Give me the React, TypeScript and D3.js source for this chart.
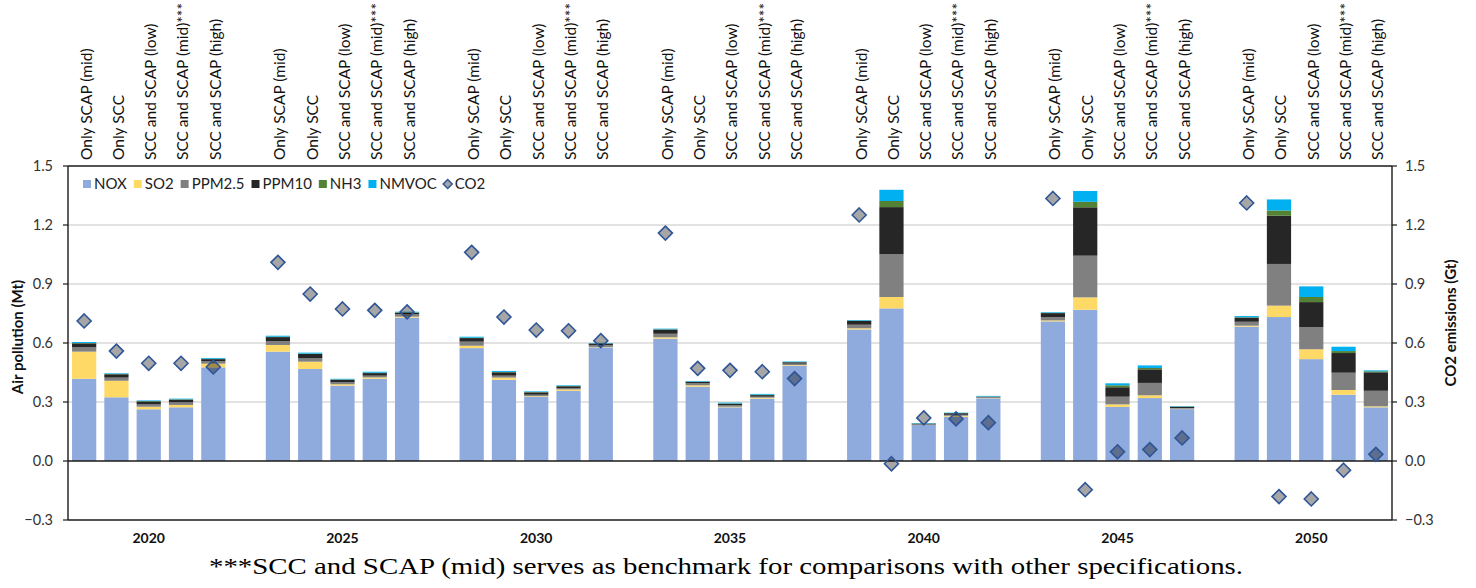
import React from "react";
import * as d3 from "d3";

const years = ["2020", "2025", "2030", "2035", "2040", "2045", "2050"];
const scenarios = [
  "Only SCAP (mid)",
  "Only SCC",
  "SCC and SCAP (low)",
  "SCC and SCAP (mid)***",
  "SCC and SCAP (high)",
];
const seriesNames = ["NOX", "SO2", "PPM2.5", "PPM10", "NH3", "NMVOC"];

// values per bar: 7 years x 5 scenarios (Mt)
const NOX = [
  0.418, 0.324, 0.263, 0.273, 0.476,
  0.556, 0.468, 0.383, 0.418, 0.729,
  0.574, 0.413, 0.327, 0.357, 0.578,
  0.622, 0.378, 0.273, 0.317, 0.485,
  0.669, 0.776, 0.183, 0.225, 0.319,
  0.71, 0.769, 0.275, 0.32, 0.264,
  0.683, 0.732, 0.518, 0.337, 0.273,
];
const SO2 = [
  0.138, 0.084, 0.013, 0.012, 0.019,
  0.034, 0.037, 0.007, 0.007, 0.005,
  0.012, 0.011, 0.003, 0.007, 0.002,
  0.007, 0.007, 0.003, 0.005, 0.003,
  0.006, 0.058, 0.001, 0.005, 0.002,
  0.005, 0.063, 0.013, 0.014, 0.002,
  0.005, 0.058, 0.05, 0.024, 0.005,
];
const PPM25 = [
  0.022, 0.016, 0.012, 0.013, 0.013,
  0.02, 0.017, 0.01, 0.009, 0.013,
  0.021, 0.01, 0.007, 0.007, 0.01,
  0.018, 0.01, 0.007, 0.005, 0.007,
  0.018, 0.217, 0.002, 0.005, 0.003,
  0.017, 0.212, 0.039, 0.063, 0.003,
  0.02, 0.212, 0.113, 0.088, 0.079,
];
const PPM10 = [
  0.02, 0.017, 0.015, 0.014, 0.01,
  0.02, 0.022, 0.013, 0.013, 0.007,
  0.018, 0.017, 0.012, 0.009, 0.007,
  0.021, 0.007, 0.008, 0.008, 0.007,
  0.019, 0.24, 0.004, 0.008, 0.003,
  0.02, 0.246, 0.048, 0.069, 0.007,
  0.021, 0.245, 0.127, 0.1, 0.094,
];
const NH3 = [
  0.002, 0.002, 0.002, 0.002, 0.002,
  0.002, 0.002, 0.002, 0.002, 0.002,
  0.002, 0.002, 0.002, 0.002, 0.001,
  0.002, 0.002, 0.002, 0.002, 0.001,
  0.002, 0.031, 0.001, 0.001, 0.001,
  0.002, 0.028, 0.01, 0.007, 0.001,
  0.002, 0.027, 0.026, 0.01, 0.005,
];
const NMVOC = [
  0.005, 0.003, 0.003, 0.003, 0.004,
  0.005, 0.005, 0.003, 0.005, 0.003,
  0.005, 0.005, 0.003, 0.003, 0.002,
  0.003, 0.003, 0.004, 0.004, 0.003,
  0.003, 0.057, 0.002, 0.002, 0.003,
  0.003, 0.055, 0.01, 0.013, 0.002,
  0.006, 0.056, 0.054, 0.022, 0.005,
];
// CO2 emissions (Gt), secondary axis
const CO2 = [
  0.712, 0.559, 0.497, 0.497, 0.478,
  1.01, 0.849, 0.773, 0.766, 0.758,
  1.061, 0.732, 0.666, 0.662, 0.612,
  1.159, 0.471, 0.461, 0.454, 0.419,
  1.251, -0.014, 0.219, 0.214, 0.195,
  1.335, -0.146, 0.047, 0.058, 0.117,
  1.312, -0.181, -0.193, -0.047, 0.034,
];
const yTicks = [-0.3, 0, 0.3, 0.6, 0.9, 1.2, 1.5];

const seriesValues: Record<string, number[]> = {
  NOX,
  SO2,
  "PPM2.5": PPM25,
  PPM10,
  NH3,
  NMVOC,
};
const colors: Record<string, string> = {
  NOX: "#8FAADC",
  SO2: "#FFD966",
  "PPM2.5": "#808080",
  PPM10: "#262626",
  NH3: "#548235",
  NMVOC: "#00B0F0",
};

const W = 1476;
const H = 588;
const M = { left: 68, right: 1392, top: 166, bottom: 520 };
const FONT = "Lato, 'Open Sans', sans-serif";

function measure(text: string, font: string) {
  const c = document.createElement("canvas").getContext("2d");
  if (!c) return text.length * 8;
  c.font = font;
  return c.measureText(text).width;
}

export default function App() {
  const slotsPerGroup = scenarios.length + 1;
  const nSlots = years.length * slotsPerGroup - 1;
  const x = d3
    .scaleBand<number>()
    .domain(d3.range(nSlots))
    .range([M.left, M.right])
    .paddingInner(0.25)
    .paddingOuter(0.125);
  const y = d3.scaleLinear().domain([-0.3, 1.5]).range([M.bottom, M.top]);
  const bw = x.bandwidth();

  const rows = NOX.map((_, i) => {
    const g = Math.floor(i / scenarios.length);
    const s = i % scenarios.length;
    const r: any = { i, year: years[g], scen: scenarios[s], slot: g * slotsPerGroup + s };
    seriesNames.forEach((k) => (r[k] = seriesValues[k][i]));
    r.CO2 = CO2[i];
    return r;
  });
  const stacked = d3.stack<any>().keys(seriesNames)(rows);

  const dpath = (r: number) => `M0,${-r}L${r},0L0,${r}L${-r},0Z`;
  const fmt = d3.format(".1f");

  // legend layout
  const legFont = `15px Lato`;
  let lx = 83;
  const legendItems = [...seriesNames, "CO2"].map((name) => {
    const item = { name, x: lx };
    lx += measure(name, legFont) + 18;
    return item;
  });

  const diamondR = 7;

  return (
    <svg
      width={W}
      height={H}
      style={{ position: "absolute", left: 0, top: 0, background: "#fff" }}
      fontFamily={FONT}
    >
      {/* gridlines */}
      {yTicks
        .filter((t) => t > -0.3 && t < 1.5 && t !== 0)
        .map((t) => (
          <line
            key={"g" + t}
            x1={M.left}
            x2={M.right}
            y1={y(t)}
            y2={y(t)}
            stroke="#D9D9D9"
            strokeWidth={1.3}
          />
        ))}

      {/* stacked bars */}
      {stacked.map((layer) => (
        <g key={layer.key} fill={colors[layer.key]}>
          {layer.map((d, j) => (
            <rect
              key={j}
              x={x(rows[j].slot)!}
              width={bw}
              y={y(d[1])}
              height={Math.max(0, y(d[0]) - y(d[1]))}
            />
          ))}
        </g>
      ))}

      {/* zero line */}
      <line x1={M.left} x2={M.right} y1={y(0)} y2={y(0)} stroke="#1a1a1a" strokeWidth={1.4} />

      {/* CO2 diamonds */}
      {rows.map((r) => (
        <path
          key={"c" + r.i}
          transform={`translate(${x(r.slot)! + bw / 2},${y(r.CO2)})`}
          d={dpath(diamondR)}
          fill="#000"
          fillOpacity={0.35}
          stroke="#2F5597"
          strokeWidth={1.6}
        />
      ))}

      {/* frame */}
      <line x1={M.left} x2={M.right} y1={M.top} y2={M.top} stroke="#1a1a1a" strokeWidth={1.4} />
      <line x1={M.left} x2={M.right} y1={M.bottom} y2={M.bottom} stroke="#1a1a1a" strokeWidth={1.4} />
      <line x1={M.left} x2={M.left} y1={M.top} y2={M.bottom} stroke="#1a1a1a" strokeWidth={1.4} />
      <line x1={M.right} x2={M.right} y1={M.top} y2={M.bottom} stroke="#1a1a1a" strokeWidth={1.4} />

      {/* axes ticks and labels */}
      {yTicks.map((t) => (
        <g key={"l" + t}>
          <line x1={M.left - 5} x2={M.left} y1={y(t)} y2={y(t)} stroke="#1a1a1a" strokeWidth={1.2} />
          <text x={M.left - 15} y={y(t)} dy="0.35em" textAnchor="end" fontSize={14.5} fill="#333">
            {fmt(t)}
          </text>
          <line x1={M.right} x2={M.right + 5} y1={y(t)} y2={y(t)} stroke="#1a1a1a" strokeWidth={1.2} />
          <text x={M.right + 13} y={y(t)} dy="0.35em" textAnchor="start" fontSize={14.5} fill="#333">
            {fmt(t)}
          </text>
        </g>
      ))}
      <text
        transform={`translate(18,337) rotate(-90)`}
        textAnchor="middle"
        dy="0.35em"
        fontSize={15}
        fontWeight="bold"
        fill="#111"
      >
        Air pollution (Mt)
      </text>
      <text
        transform={`translate(1451,323) rotate(-90)`}
        textAnchor="middle"
        dy="0.35em"
        fontSize={15}
        fontWeight="bold"
        fill="#111"
      >
        CO2 emissions (Gt)
      </text>

      {/* top scenario labels */}
      {rows.map((r) => (
        <text
          key={"t" + r.i}
          transform={`translate(${x(r.slot)! + bw / 2 + 2},160) rotate(-90)`}
          textAnchor="start"
          dy="0.35em"
          fontSize={15.5}
          fill="#111"
        >
          {r.scen}
        </text>
      ))}

      {/* group year labels */}
      {years.map((yr, g) => (
        <text
          key={yr}
          x={x(g * slotsPerGroup + 2)! + bw / 2}
          y={538}
          dy="0.35em"
          textAnchor="middle"
          fontSize={14}
          fontWeight="bold"
          fill="#111"
        >
          {yr}
        </text>
      ))}

      {/* legend */}
      {legendItems.map((it) => (
        <g key={"lg" + it.name} transform={`translate(${it.x},184)`}>
          {it.name === "CO2" ? (
            <path
              transform="translate(4,0)"
              d={dpath(4.5)}
              fill="#000"
              fillOpacity={0.35}
              stroke="#2F5597"
              strokeWidth={1.5}
            />
          ) : (
            <rect x={0} y={-4} width={8} height={8} fill={colors[it.name]} />
          )}
          <text x={11} dy="0.35em" fontSize={15} fill="#222">
            {it.name}
          </text>
        </g>
      ))}

      {/* footnote */}
      <text
        x={726}
        y={574}
        textAnchor="middle"
        fontFamily="'Liberation Serif', 'DejaVu Serif', serif"
        fontSize={23}
        textLength={1034}
        lengthAdjust="spacingAndGlyphs"
        fill="#000"
      >
        ***SCC and SCAP (mid) serves as benchmark for comparisons with other specifications.
      </text>
    </svg>
  );
}
